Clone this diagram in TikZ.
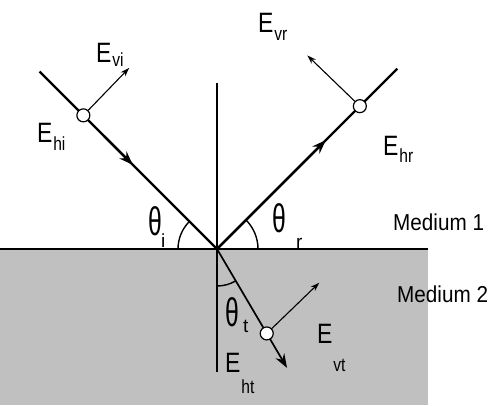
\documentclass[tikz,border=0pt]{standalone}
\usepackage{fontspec}
\setmainfont{Liberation Sans}
\usetikzlibrary{arrows.meta,positioning,calc}
\definecolor{cinza}{HTML}{C0C0C0}
\tikzset{
  raio/.style={draw=black, line width=2.2pt},
  seta/.style={-{Stealth[length=14pt,width=10pt]}},
  campo/.style={-{Stealth[length=9pt,width=6pt]}, draw=black, line width=1.1pt},
  bolinha/.style={circle, draw=black, fill=white, line width=1.2pt, inner sep=0pt, minimum size=13pt},
  rotulo/.style={font=\fontsize{28}{28}\selectfont, inner sep=0pt, anchor=base west},
  indice/.style={font=\fontsize{19}{19}\selectfont, inner sep=0pt, anchor=base west},
  meio/.style={font=\fontsize{23}{23}\selectfont, inner sep=0pt, anchor=base west},
  angulo/.style={font=\fontsize{40}{40}\selectfont, inner sep=0pt},
  arco/.style={draw=black, line width=1.4pt},
}
\newcommand{\compo}[2]{\scalebox{0.82}[1]{E\hspace{1pt}\raisebox{-#2}{\fontsize{19}{19}\selectfont #1}}}
\newcommand{\teta}{\scalebox{0.62}[1]{θ}}

\begin{document}
\begin{tikzpicture}[x=1pt,y=1pt]
    \useasboundingbox (0,0) rectangle (495,405);
    \fill[cinza] (0,0) rectangle (428,156);
    \coordinate (O) at (217,156);
    \coordinate (s1) at (0,156);
    \coordinate (s2) at (428,156);
    \coordinate (n1) at (217,322);
    \coordinate (n2) at (217,33);
    % raios
    \coordinate (ia) at ([shift={(135:251)}]O);
    \coordinate (im) at ([shift={(135:119)}]O);
    \coordinate (ra) at ([shift={(45:255)}]O);
    \coordinate (rm) at ([shift={(45:154)}]O);
    \coordinate (ta) at ([shift={(-59.5:138)}]O);
    \draw[line width=1.6pt] (n1) -- (n2);
    \draw[raio] (ia) -- (O);
    \draw[raio, seta] ([shift={(135:160)}]O) -- (im);
    \draw[raio] (O) -- (ra);
    \draw[raio, seta] (O) -- (rm);
    \draw[raio, line width=1.7pt, seta] (O) -- (ta);
    \draw[line width=2.8pt] (s1) -- (s2);
    % angulos
    \draw[arco] ([shift={(180:39)}]O) arc[start angle=180, end angle=135, radius=39pt];
    \draw[arco] ([shift={(0:41)}]O) arc[start angle=0, end angle=45, radius=41pt];
    \draw[arco] ([shift={(-90:37)}]O) arc[start angle=-90, end angle=-59.5, radius=37pt];
    % campos
    \node[bolinha] (pi) at ([shift={(135:189)}]O) {};
    \node[bolinha] (pr) at ([shift={(45:202)}]O) {};
    \node[bolinha] (pt) at ([shift={(-59.5:98)}]O) {};
    \coordinate (vi) at ([shift={(46:66)}]pi);
    \coordinate (vr) at ([shift={(136:73)}]pr);
    \coordinate (vt) at ([shift={(44:73)}]pt);
    \draw[campo] (pi) -- (vi);
    \draw[campo] (pr) -- (vr);
    \draw[campo] (pt) -- (vt);
    % rotulos
    \node[rotulo] (evi) at (96,342) {\compo{vi}{4pt}};
    \node[rotulo] (ehi) at (37,262) {\compo{hi}{8pt}};
    \node[rotulo] (evr) at (258,372) {\compo{vr}{8pt}};
    \node[rotulo] (ehr) at (383,250) {\compo{hr}{7pt}};
    \node[rotulo] (evt) at (317,62) {\compo{vt}{28pt}};
    \node[rotulo] (eht) at (225,33) {\compo{ht}{21pt}};
    \node[angulo] (tti) at (155,184) {\teta};
    \node[angulo] (ttr) at (279,187) {\teta};
    \node[angulo] (ttt) at (232,93) {\teta};
    \node[indice] (si) at (161,158) {i};
    \node[indice] (sr) at (296,157) {r};
    \node[indice] (st) at (243,73) {t};
    \node[meio] (m1) at (393,175) {\scalebox{0.9}[1]{Medium 1}};
    \node[meio] (m2) at (397,103) {\scalebox{0.9}[1]{Medium 2}};
\end{tikzpicture}
\end{document}
